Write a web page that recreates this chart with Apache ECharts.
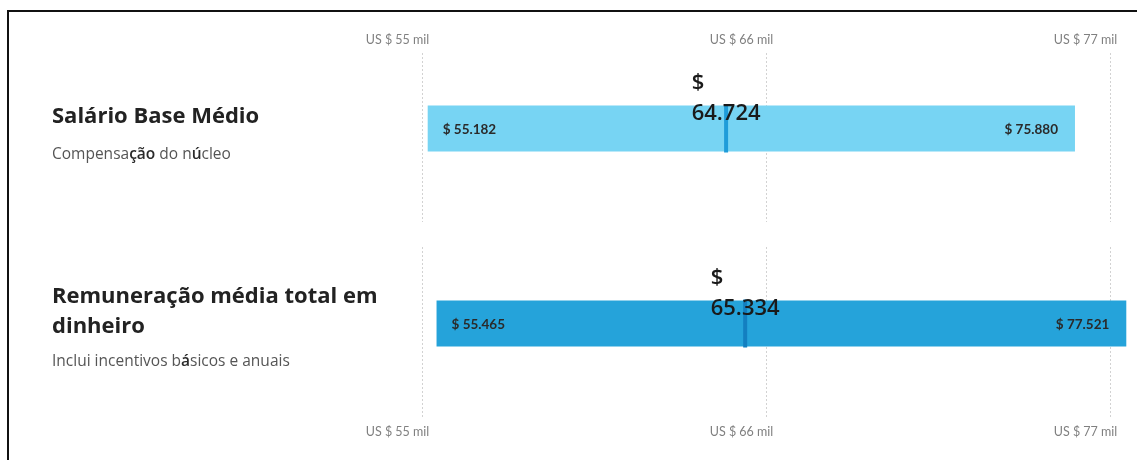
<!DOCTYPE html>
<html>
<head>
<meta charset="utf-8">
<script src="https://cdn.jsdelivr.net/npm/echarts@6/dist/echarts.min.js"></script>
<style>
  html, body { margin: 0; padding: 0; background: #fff; overflow: hidden; }
  #frame { position: absolute; left: 7px; top: 10px; width: 3000px; height: 3000px; border: 2px solid #111; box-sizing: border-box; }
  #chart { position: absolute; left: 0; top: 0; width: 1137px; height: 460px; }
</style>
</head>
<body>
<div id="frame"></div>
<div id="chart"></div>
<script>
// ---- data ----
const categories = ['Salário Base Médio', 'Remuneração média total em\ndinheiro'];
const subtitles = ['Compensa{d|ção} do n{d|ú}cleo', 'Inclui incentivos b{d|á}sicos e anuais'];
const lowValues = [55182, 55465];
const medianValues = [64724, 65334];
const highValues = [75880, 77521];
const tickValues = [55000, 66000, 77000];
const tickLabels = ['US $ 55 mil', 'US $ 66 mil', 'US $ 77 mil'];

const barColors = ['#77D4F3', '#25A3DA'];
const markerColors = ['#1F9CD9', '#137FC0'];
const FONT = 'Lato, "Open Sans", "Noto Sans", sans-serif';
const TFONT = '"Open Sans", Lato, "Noto Sans", sans-serif';

function fmt(v) {
  return String(Math.round(v)).replace(/\B(?=(\d{3})+(?!\d))/g, '.');
}

const chart = echarts.init(document.getElementById('chart'), null, { renderer: 'canvas' });

const gridDefs = [
  { left: 422, right: 27, top: 53, height: 169 },
  { left: 422, right: 27, top: 247, height: 171 }
];

function makeXAxis(i) {
  return {
    type: 'value',
    gridIndex: i,
    position: i === 0 ? 'top' : 'bottom',
    min: tickValues[0],
    max: tickValues[tickValues.length - 1],
    interval: tickValues[1] - tickValues[0],
    axisLine: { show: false },
    axisTick: { show: false },
    splitLine: { show: true, lineStyle: { color: '#d2d2d2', width: 1, type: [2, 2] } },
    axisLabel: {
      margin: 7,
      color: '#808080',
      fontSize: 12.5,
      fontFamily: FONT,
      align: 'center',
      padding: [0, 49, 0, 0],
      formatter: function (v) {
        const k = tickValues.indexOf(v);
        return k >= 0 ? tickLabels[k] : '';
      }
    }
  };
}

function makeYAxis(i) {
  return {
    type: 'category',
    gridIndex: i,
    data: [categories[i]],
    show: false
  };
}

function makeSeries(i) {
  return {
    type: 'custom',
    xAxisIndex: i,
    yAxisIndex: i,
    clip: false,
    encode: { x: [0, 1, 2], y: 3 },
    data: [[lowValues[i], highValues[i], medianValues[i], 0]],
    renderItem: function (params, api) {
      const lo = api.value(0), hi = api.value(1), md = api.value(2), cat = api.value(3);
      const p0 = api.coord([lo, cat]);
      const p1 = api.coord([hi, cat]);
      const pm = api.coord([md, cat]);
      const yc = p0[1] - 9;
      const h = 46;
      return {
        type: 'group',
        children: [
          { type: 'rect', shape: { x: p0[0], y: yc - h / 2, width: p1[0] - p0[0], height: h },
            style: { fill: barColors[i] } },
          { type: 'rect', shape: { x: pm[0] - 2, y: yc - h / 2 - 1, width: 4, height: h + 2 },
            style: { fill: markerColors[i] } },
          { type: 'text', style: { text: '$ ' + fmt(lo), x: p0[0] + 15, y: yc + 1, align: 'left', verticalAlign: 'middle',
              fill: '#2a2a2a', fontSize: 13.5, fontWeight: 'bold', fontFamily: FONT } },
          { type: 'text', style: { text: '$ ' + fmt(hi), x: p1[0] - 17, y: yc + 1, align: 'right', verticalAlign: 'middle',
              fill: '#2a2a2a', fontSize: 13.5, fontWeight: 'bold', fontFamily: FONT } },
          { type: 'text', z2: 10, style: { text: '{a|$}\n{a|' + fmt(md) + '}', x: pm[0], y: yc - 30, align: 'center', verticalAlign: 'middle',
              fill: '#1a1a1a', fontSize: 22, fontWeight: 600, fontFamily: TFONT, lineHeight: 31,
              rich: { a: { align: 'left', fontSize: 22, fontWeight: 600, lineHeight: 31, fill: '#1a1a1a', fontFamily: TFONT } } } }
        ]
      };
    }
  };
}

const titleBase = {
  textStyle: { fontSize: 22, fontWeight: 'bold', color: '#222', fontFamily: TFONT, lineHeight: 30 },
  subtextStyle: { fontSize: 15.5, color: '#555', fontFamily: TFONT, lineHeight: 20,
    rich: { d: { color: '#2a2a2a', fontWeight: 600, fontSize: 15.5, fontFamily: TFONT, lineHeight: 20 } } }
};

chart.setOption({
  animation: false,
  backgroundColor: 'transparent',
  title: [
    Object.assign({}, titleBase, { left: 46, top: 102, itemGap: 13, padding: [0, 6], text: categories[0], subtext: subtitles[0] }),
    Object.assign({}, titleBase, { left: 46, top: 282, itemGap: 10, padding: [0, 6], text: categories[1], subtext: subtitles[1] })
  ],
  grid: gridDefs,
  xAxis: [makeXAxis(0), makeXAxis(1)],
  yAxis: [makeYAxis(0), makeYAxis(1)],
  series: [makeSeries(0), makeSeries(1)]
});
</script>
</body>
</html>
